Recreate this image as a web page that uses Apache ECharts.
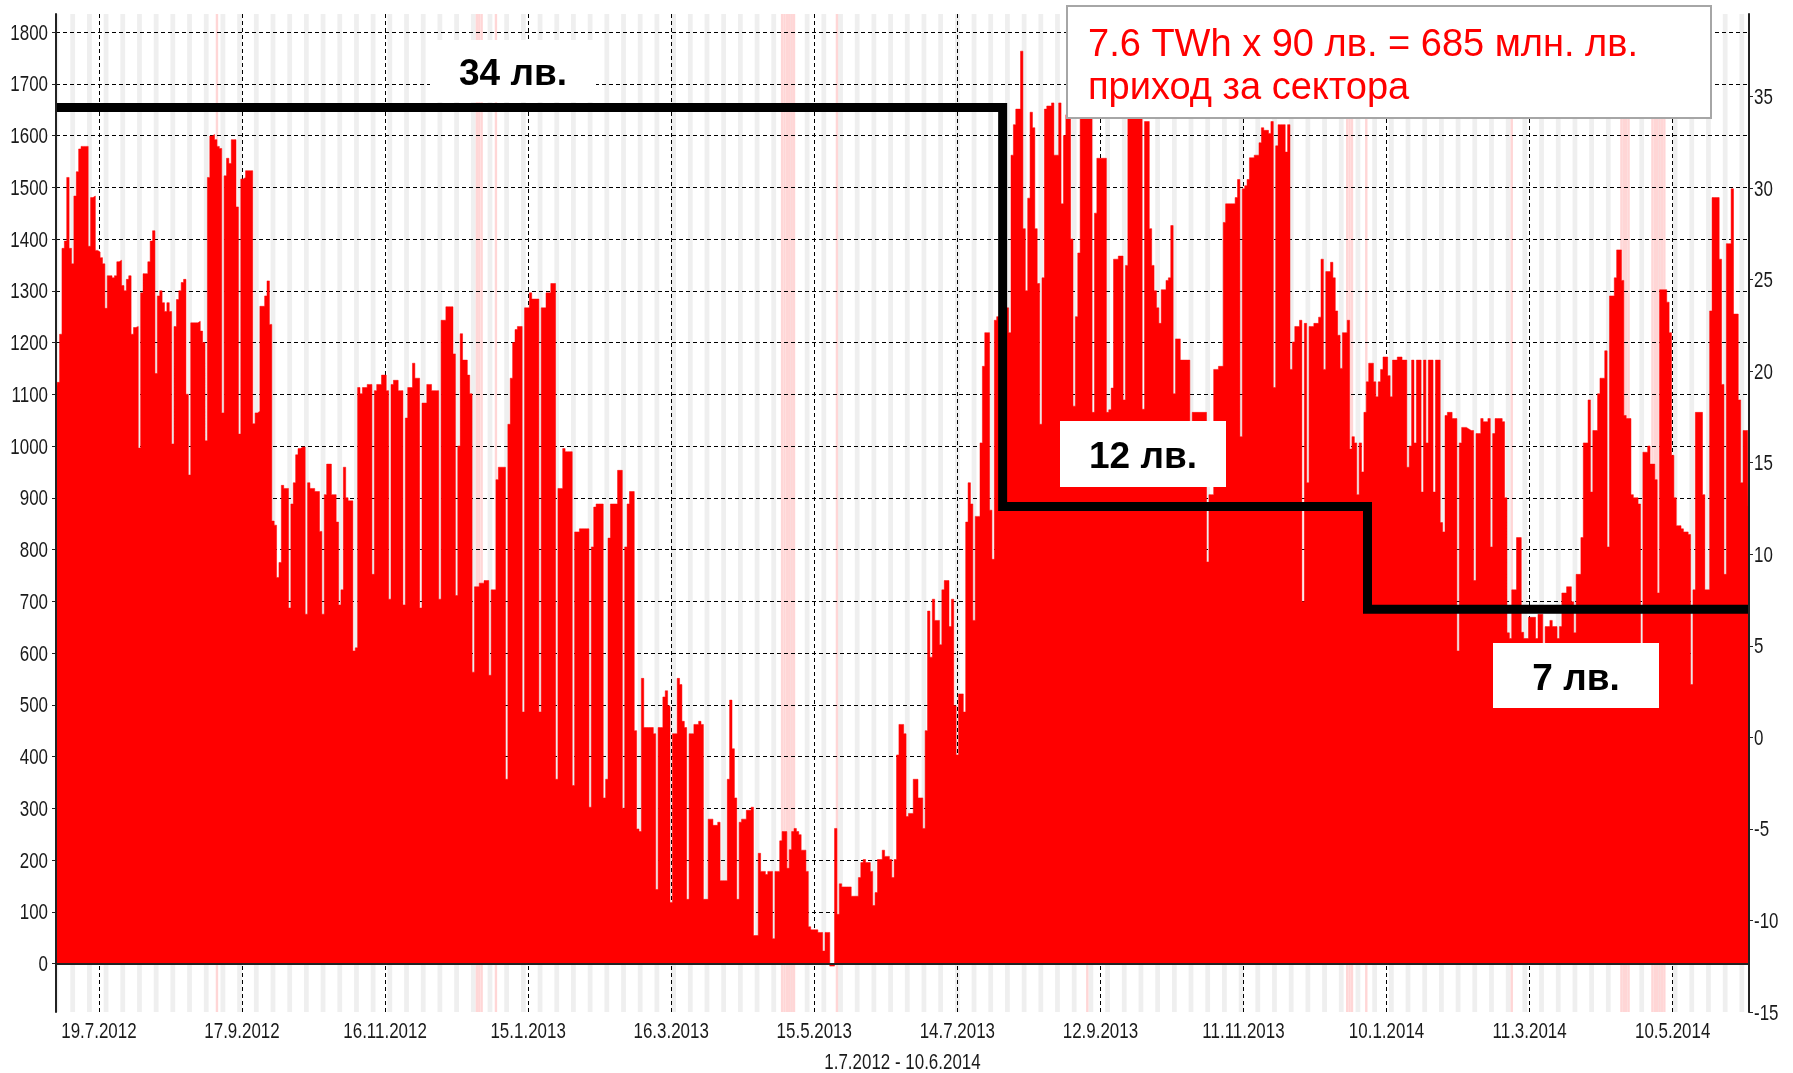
<!DOCTYPE html>
<html><head><meta charset="utf-8">
<script src="https://cdn.jsdelivr.net/npm/echarts@6/dist/echarts.min.js"></script>
<style>html,body{margin:0;padding:0;background:#fff}#c{width:1793px;height:1073px}</style>
</head><body><div id="c"></div>
<script>
// ---------------- data ----------------
const PERIOD_START = '1.7.2012';
const PERIOD_END = '11.6.2014';
const AXIS_NAME = '1.7.2012 - 10.6.2014';
const X_TICKS = ['19.7.2012','17.9.2012','16.11.2012','15.1.2013','16.3.2013','15.5.2013','14.7.2013','12.9.2013','11.11.2013','10.1.2014','11.3.2014','10.5.2014'];
const LEFT_TICKS = [0,100,200,300,400,500,600,700,800,900,1000,1100,1200,1300,1400,1500,1600,1700,1800];
const RIGHT_TICKS = [-15,-10,-5,0,5,10,15,20,25,30,35];
const HOLIDAYS = ['6.9.2012','24.12.2012','25.12.2012','26.12.2012','1.1.2013',
  '1.5.2013','2.5.2013','3.5.2013','4.5.2013','5.5.2013','6.5.2013','24.5.2013','6.9.2013',
  '24.12.2013','25.12.2013','26.12.2013','1.1.2014','3.3.2014','18.4.2014','19.4.2014','20.4.2014','21.4.2014',
  '1.5.2014','2.5.2014','3.5.2014','4.5.2014','5.5.2014','6.5.2014'];
const FEE_DATES = ['1.7.2012','2.8.2013','2.1.2014','11.6.2014'];
const FEE_VALUES = [34.4, 12.6, 7.0, 7.0];
const FEE_LABELS = ['34 лв.','12 лв.','7 лв.'];
const NOTE_LINES = ['7.6 TWh x 90 лв. = 685 млн. лв.','приход за сектора'];
// daily values from 1.7.2012, one row per week (Sun..Sat)
const DAILY_VALUES = [
1070,1123,1216,1382,1396,1519,1382,
1352,1483,1530,1574,1579,1579,1579,
1386,1480,1483,1378,1375,1364,1352,
1266,1329,1329,1325,1329,1356,1359,
1310,1300,1322,1329,1216,1229,1231,
996,1296,1333,1333,1356,1396,1416,
1140,1290,1300,1277,1260,1277,1260,
1004,1231,1283,1300,1316,1322,1100,
944,1238,1238,1238,1241,1222,1200,
1010,1519,1599,1602,1592,1579,1575,
1064,1522,1556,1546,1592,1592,1462,
1023,1516,1519,1532,1532,1532,1043,
1064,1067,1270,1270,1290,1319,1235,
855,847,746,775,924,918,918,
687,888,929,983,995,998,998,
675,929,918,918,912,912,835,
675,906,965,965,906,906,853,
693,722,959,900,894,894,604,
610,1113,1101,1113,1113,1119,1119,
752,1107,1119,1119,1137,1137,1107,
704,1119,1127,1127,1107,1107,693,
1054,1113,1113,1160,1131,1131,687,
1083,1083,1119,1119,1107,1107,1107,
704,1243,1243,1269,1269,1269,1178,
711,1000,1217,1166,1166,1137,1101,
563,728,728,735,735,740,740,
557,722,722,935,959,959,959,
356,1042,1131,1200,1225,1231,1231,
486,1267,1267,1296,1284,1284,1284,
486,1267,1267,1296,1296,1314,1314,
356,918,918,995,989,989,989,
344,834,834,840,840,840,840,
302,805,882,888,888,888,320,
356,822,888,888,888,953,953,
300,805,888,912,912,450,260,
255,551,456,456,456,456,444,
143,456,456,515,527,498,118,
444,444,551,539,468,456,124,
444,444,462,462,468,462,124,
124,279,279,267,267,273,160,
160,160,356,509,415,320,124,
273,279,279,296,296,302,54,
54,213,178,178,172,178,178,
48,178,178,237,255,255,184,
220,255,261,255,249,219,219,
178,71,65,65,65,60,60,
24,60,60,-5,-5,261,95,
154,148,148,148,148,130,130,
130,166,195,201,195,195,178,
112,137,201,201,219,207,207,
201,166,201,403,462,462,444,
284,290,290,356,356,320,320,
261,450,681,592,704,663,663,
616,722,740,740,651,704,498,
403,521,521,486,853,929,888,
663,864,864,1006,1154,1219,1219,
876,781,1243,1250,1150,1100,1426,
1267,1219,1562,1621,1651,1651,1763,
1420,1300,1479,1645,1615,1420,1314,
1042,1325,1651,1657,1657,1663,1562,
1562,1663,1468,1600,1640,1640,1400,
1077,1250,1373,1663,1650,1650,1650,
1650,1065,1450,1556,1556,1556,1556,
1065,1070,1112,1361,1361,1367,1367,
1089,1349,1640,1663,1663,1663,1663,
1650,1071,1627,1627,1420,1349,1300,
1267,1237,1302,1302,1320,1325,1426,
1101,1207,1207,1166,1166,1166,1166,
1000,1065,1065,1065,1065,1065,1065,
776,906,906,1148,1148,1154,1154,
1432,1468,1468,1468,1468,1480,1515,
1018,1497,1503,1515,1557,1557,1562,
1562,1586,1615,1610,1610,1604,1627,
1113,1580,1621,1621,1621,1568,1621,
1148,1201,1231,1231,1243,699,1237,
929,1231,1231,1237,1237,1249,1361,
1148,1337,1337,1355,1325,1261,1214,
1150,1219,1219,1243,994,1018,1006,
906,1006,950,1065,1124,1160,1160,
1124,1095,1124,1148,1172,1172,1136,
1095,1166,1166,1172,1172,1166,1166,
959,1000,1166,1006,1166,1166,911,
1166,1006,1166,1166,911,1166,1166,
852,834,1059,1065,1065,1053,1053,
604,1006,1036,1036,1033,1030,1030,
740,1024,1024,1053,1047,1047,1053,
805,1024,1053,1053,1053,1047,900,
639,628,722,722,823,823,640,
628,628,669,669,669,628,675,
675,616,651,651,663,651,651,
628,651,716,716,728,728,699,
639,752,752,823,1006,1006,1089,
911,1030,1030,1101,1131,1131,1184,
805,1290,1290,1325,1379,1379,1320,
1059,1053,1053,906,900,900,888,
616,988,988,1000,965,965,935,
716,1302,1302,1302,1278,1219,982,
900,846,846,840,834,834,829,
539,722,1065,1065,1065,906,722,
722,1261,1480,1480,1480,1361,1119,
752,1391,1391,1497,1255,1255,1089,
929,1030,1030
];

// ---------------- helpers ----------------
function dmy(s){ const p = s.split('.').map(Number); return new Date(p[2], p[1]-1, p[0]).getTime(); }
const S = PERIOD_START.split('.').map(Number);
function dayTime(i){ return new Date(S[2], S[1]-1, S[0]+i).getTime(); }

const dailyData = DAILY_VALUES.map((v,i)=>[dayTime(i), v]);
// close the last step at the end of the period
dailyData.push([dmy(PERIOD_END), DAILY_VALUES[DAILY_VALUES.length-1]]);

const feeData = FEE_DATES.map((d,i)=>[dmy(d), FEE_VALUES[i]]);

// weekend stripes (Sat+Sun) and holidays
const areas = [];
const nDays = Math.round((dmy(PERIOD_END) - dmy(PERIOD_START)) / 86400000);
let runStart = -1;
for (let i = 0; i <= nDays; i++) {
  const wd = i < nDays ? new Date(dayTime(i)).getDay() : 1;
  const we = (wd === 0 || wd === 6);
  if (we && runStart < 0) runStart = i;
  if (!we && runStart >= 0) {
    areas.push([{xAxis: dayTime(runStart), itemStyle:{color:'#efefef'}}, {xAxis: dayTime(i)}]);
    runStart = -1;
  }
}
HOLIDAYS.forEach(h => {
  const t = dmy(h);
  areas.push([{xAxis: t, itemStyle:{color:'#ffd6d6'}}, {xAxis: t + 86400000}]);
});

const gridLines = [
  ...X_TICKS.map(t => ({xAxis: dmy(t)})),
  ...LEFT_TICKS.map(v => ({yAxis: v}))
];

const TEXT_FONT = '"Liberation Sans", Arial, sans-serif';
const TICK_FONT = '22px ' + TEXT_FONT;
const TICK_SCALE = 0.77;
const TICK_COLOR = '#1a1a1a';
const Y_MIN = -93.7, Y_MAX = 1834.8, R_MIN = -15, R_MAX = 39.5;

const chart = echarts.init(document.getElementById('c'), null, {renderer:'canvas'});
const baseGraphic = [
  {type:'rect', z:100, shape:{x:1067, y:6, width:644, height:112}, style:{fill:'#fff', stroke:'#a6a6a6', lineWidth:2}},
  {type:'text', z:101, x:1088, y:46, style:{text:NOTE_LINES[0], fill:'#ff0000', font:'38px ' + TEXT_FONT, align:'left', verticalAlign:'middle'}},
  {type:'text', z:101, x:1088, y:89, style:{text:NOTE_LINES[1], fill:'#ff0000', font:'38px ' + TEXT_FONT, align:'left', verticalAlign:'middle'}},
  {type:'rect', z:100, shape:{x:430, y:40, width:166, height:62}, style:{fill:'#fff'}},
  {type:'text', z:101, x:513, y:74.5, style:{text:FEE_LABELS[0], fill:'#000', font:'bold 37px ' + TEXT_FONT, align:'center', verticalAlign:'middle'}},
  {type:'rect', z:100, shape:{x:1060, y:421, width:166, height:66}, style:{fill:'#fff'}},
  {type:'text', z:101, x:1143, y:458, style:{text:FEE_LABELS[1], fill:'#000', font:'bold 37px ' + TEXT_FONT, align:'center', verticalAlign:'middle'}},
  {type:'rect', z:100, shape:{x:1493, y:643, width:166, height:65}, style:{fill:'#fff'}},
  {type:'text', z:101, x:1576, y:679.5, style:{text:FEE_LABELS[2], fill:'#000', font:'bold 37px ' + TEXT_FONT, align:'center', verticalAlign:'middle'}}
];

chart.setOption({
  animation: false,
  backgroundColor: '#ffffff',
  grid: {left: 56, right: 44, top: 14, bottom: 61, containLabel: false, outerBoundsMode: 'none'},
  xAxis: {
    type: 'time',
    min: dmy(PERIOD_START), max: dmy(PERIOD_END),
    z: 5,
    axisLine: {show: true, lineStyle: {color: '#222', width: 2}},
    axisTick: {show: false},
    axisLabel: {show: false},
    splitLine: {show: false}
  },
  yAxis: [
    {
      type: 'value', min: Y_MIN, max: Y_MAX, position: 'left', z: 5,
      axisLine: {show: true, onZero: false, lineStyle: {color: '#222', width: 2}},
      axisTick: {show: true, length: 4, customValues: LEFT_TICKS, lineStyle: {color: '#222'}},
      axisLabel: {show: false},
      splitLine: {show: false}
    },
    {
      type: 'value', min: R_MIN, max: R_MAX, position: 'right', z: 5,
      axisLine: {show: true, onZero: false, lineStyle: {color: '#222', width: 2}},
      axisTick: {show: true, length: 4, customValues: RIGHT_TICKS, lineStyle: {color: '#222'}},
      axisLabel: {show: false},
      splitLine: {show: false}
    }
  ],
  series: [
    {
      name: 'stripes', type: 'line', data: [], z: 1, silent: true, showSymbol: false,
      markArea: {silent: true, z: 1, data: areas}
    },
    {
      name: 'grid', type: 'line', data: [], z: 2, silent: true, showSymbol: false,
      markLine: {silent: true, z: 2, symbol: ['none','none'], label: {show: false},
        lineStyle: {type: [4,3], color: '#000', width: 1}, emphasis: {disabled: true}, data: gridLines}
    },
    {
      name: 'daily', type: 'line', step: 'middle', data: dailyData, z: 3,
      showSymbol: false, symbol: 'none', silent: true,
      lineStyle: {width: 0.5, color: '#ff0000'},
      areaStyle: {color: '#ff0000', opacity: 1}
    },
    {
      name: 'fee', type: 'line', step: 'end', yAxisIndex: 1, data: feeData, z: 4,
      showSymbol: false, symbol: 'none', silent: true,
      lineStyle: {width: 9, color: '#000', join: 'miter', cap: 'butt'}
    }
  ],
  graphic: baseGraphic
});

// axis tick labels, placed through the chart's own scales
const px = v => chart.convertToPixel({xAxisIndex: 0}, v);
const pyL = v => chart.convertToPixel({yAxisIndex: 0}, v);
const pyR = v => chart.convertToPixel({yAxisIndex: 1}, v);
const axisBottom = pyL(Y_MIN);
const axisLeft = px(dmy(PERIOD_START));
const axisRight = px(dmy(PERIOD_END));
const labels = [];
function tickText(x, y, text, align){
  return {type:'text', z:50, x:x, y:y, scaleX: TICK_SCALE, silent: true,
    style:{text:String(text), font:TICK_FONT, fill:TICK_COLOR, align:align, verticalAlign:'middle'}};
}
X_TICKS.forEach(t => labels.push(tickText(px(dmy(t)), axisBottom + 20, t, 'center')));
LEFT_TICKS.forEach(v => labels.push(tickText(axisLeft - 8, pyL(v) + 1.5, v, 'right')));
RIGHT_TICKS.forEach(v => labels.push(tickText(axisRight + 5, pyR(v) + 1.5, v, 'left')));
labels.push(tickText((axisLeft + axisRight) / 2, axisBottom + 51, AXIS_NAME, 'center'));
chart.setOption({graphic: baseGraphic.concat(labels)});
</script></body></html>
